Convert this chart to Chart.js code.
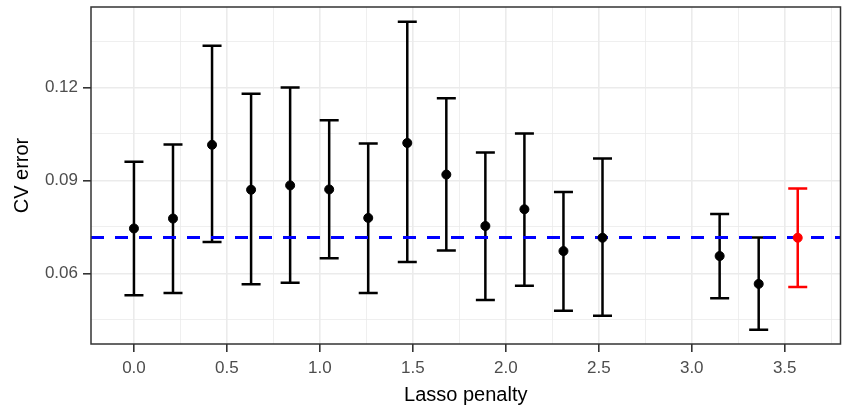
<!DOCTYPE html>
<html>
<head>
<meta charset="utf-8">
<script src="https://cdn.jsdelivr.net/npm/chart.js@4.4.1/dist/chart.umd.min.js"></script>
<style>
  html, body { margin: 0; padding: 0; background: #fff; }
  canvas { display: block; }
</style>
</head>
<body>
<canvas id="cv-chart" width="846" height="410"></canvas>
<script>
// Cross-validation results per lasso penalty
const penalty = [0, 0.21, 0.42, 0.63, 0.84, 1.05, 1.26, 1.47, 1.68, 1.89, 2.10, 2.31, 2.52, 3.15, 3.36, 3.57];
const cvMean  = [0.0745, 0.0777, 0.1015, 0.0870, 0.0884, 0.0871, 0.0779, 0.1021, 0.0919, 0.0753, 0.0807, 0.0672, 0.0715, 0.0656, 0.0566, 0.0715];
const cvLower = [0.0529, 0.0537, 0.0701, 0.0565, 0.0570, 0.0649, 0.0537, 0.0637, 0.0674, 0.0514, 0.0560, 0.0479, 0.0463, 0.0520, 0.0418, 0.0556];
const cvUpper = [0.0960, 0.1016, 0.1335, 0.1180, 0.1200, 0.1094, 0.1019, 0.1412, 0.1165, 0.0990, 0.1052, 0.0863, 0.0971, 0.0792, 0.0716, 0.0874];
const selected = 15; // penalty picked by the one-SE rule

// Axis ticks
const xMajor = [0, 0.5, 1.0, 1.5, 2.0, 2.5, 3.0, 3.5];
const xLabels = ['0.0', '0.5', '1.0', '1.5', '2.0', '2.5', '3.0', '3.5'];
const xMinor = [0.25, 0.75, 1.25, 1.75, 2.25, 2.75, 3.25, 3.75];
const yMajor = [0.06, 0.09, 0.12];
const yLabels = ['0.06', '0.09', '0.12'];
const yMinor = [0.045, 0.075, 0.105, 0.135];

const xRange = [-0.231, 3.80];
const yRange = [0.0372, 0.1460];

// dashed reference line: upper bound of the lowest CV error
const best = cvMean.indexOf(Math.min(...cvMean));
const seLine = cvUpper[best];

const FONT = '"Liberation Sans", Arial, Helvetica, sans-serif';
const GRID = '#ebebeb';

const isMajor = (list, v) => list.some(m => Math.abs(m - v) < 1e-9);

const blackPts = [], redPts = [];
penalty.forEach((x, i) => {
  (i === selected ? redPts : blackPts).push({ x: x, y: cvMean[i] });
});

// vertical error bars with caps
const errorBars = {
  id: 'errorBars',
  beforeDatasetsDraw(chart) {
    const { ctx, scales: { x, y } } = chart;
    const half = 9.5;
    ctx.save();
    ctx.lineWidth = 2.5;
    penalty.forEach((v, i) => {
      const px = x.getPixelForValue(v);
      const lo = y.getPixelForValue(cvLower[i]);
      const hi = y.getPixelForValue(cvUpper[i]);
      ctx.strokeStyle = i === selected ? '#ff0000' : '#000000';
      ctx.beginPath();
      ctx.moveTo(px, lo); ctx.lineTo(px, hi);
      ctx.moveTo(px - half, lo); ctx.lineTo(px + half, lo);
      ctx.moveTo(px - half, hi); ctx.lineTo(px + half, hi);
      ctx.stroke();
    });
    ctx.restore();
  }
};

// full panel border like theme_bw
const panelBorder = {
  id: 'panelBorder',
  afterDraw(chart) {
    const { ctx, chartArea: a } = chart;
    ctx.save();
    ctx.strokeStyle = '#333333';
    ctx.lineWidth = 1.5;
    ctx.strokeRect(a.left, a.top, a.right - a.left, a.bottom - a.top);
    ctx.restore();
  }
};

new Chart(document.getElementById('cv-chart').getContext('2d'), {
  type: 'scatter',
  data: {
    datasets: [
      {
        data: redPts,
        backgroundColor: '#ff0000',
        borderColor: '#ff0000',
        pointRadius: 4.5,
        pointHoverRadius: 4.5,
      },
      {
        data: blackPts,
        backgroundColor: '#000000',
        borderColor: '#000000',
        pointRadius: 4.5,
        pointHoverRadius: 4.5,
      },
      {
        type: 'line',
        data: [{ x: xRange[0], y: seLine }, { x: xRange[1], y: seLine }],
        borderColor: '#0000ff',
        borderWidth: 3,
        borderDash: [13, 11],
        pointRadius: 0,
        fill: false,
      },
    ],
  },
  options: {
    responsive: false,
    animation: false,
    layout: { padding: { left: 0, top: 7, right: 5, bottom: 0 } },
    plugins: {
      legend: { display: false },
      tooltip: { enabled: false },
    },
    scales: {
      x: {
        type: 'linear',
        min: xRange[0],
        max: xRange[1],
        afterBuildTicks: (s) => {
          s.ticks = [...xMajor, ...xMinor].sort((a, b) => a - b).map(v => ({ value: v }));
        },
        afterFit: (s) => {
          s.height = 66;
          s.paddingLeft = 0;
          s.paddingRight = 0;
        },
        border: { display: false },
        grid: {
          color: (c) => GRID,
          lineWidth: (c) => isMajor(xMajor, c.tick.value) ? 1.6 : 0.8,
          drawTicks: true,
          tickLength: 8,
          tickWidth: (c) => isMajor(xMajor, c.tick.value) ? 1.6 : 0,
          tickColor: (c) => isMajor(xMajor, c.tick.value) ? '#333333' : 'rgba(0,0,0,0)',
        },
        ticks: {
          autoSkip: false,
          maxRotation: 0,
          padding: 6,
          color: '#4d4d4d',
          font: { family: FONT, size: 17 },
          callback: (v) => {
            const k = xMajor.findIndex(m => Math.abs(m - v) < 1e-9);
            return k >= 0 ? xLabels[k] : '';
          },
        },
        title: {
          display: true,
          text: 'Lasso penalty',
          color: '#000000',
          font: { family: FONT, size: 20 },
          padding: { top: 0, bottom: 3 },
        },
      },
      y: {
        type: 'linear',
        min: yRange[0],
        max: yRange[1],
        afterBuildTicks: (s) => {
          s.ticks = [...yMajor, ...yMinor].sort((a, b) => a - b).map(v => ({ value: v }));
        },
        afterFit: (s) => {
          s.width = 91;
          s.paddingTop = 0;
          s.paddingBottom = 0;
        },
        border: { display: false },
        grid: {
          color: (c) => GRID,
          lineWidth: (c) => isMajor(yMajor, c.tick.value) ? 1.6 : 0.8,
          drawTicks: true,
          tickLength: 8,
          tickWidth: (c) => isMajor(yMajor, c.tick.value) ? 1.6 : 0,
          tickColor: (c) => isMajor(yMajor, c.tick.value) ? '#333333' : 'rgba(0,0,0,0)',
        },
        ticks: {
          autoSkip: false,
          padding: 5,
          color: '#4d4d4d',
          font: { family: FONT, size: 17 },
          callback: (v) => {
            const k = yMajor.findIndex(m => Math.abs(m - v) < 1e-9);
            return k >= 0 ? yLabels[k] : '';
          },
        },
        title: {
          display: true,
          text: 'CV error',
          color: '#000000',
          font: { family: FONT, size: 20 },
          padding: { top: 10, bottom: 0 },
        },
      },
    },
  },
  plugins: [errorBars, panelBorder],
});
</script>
</body>
</html>
